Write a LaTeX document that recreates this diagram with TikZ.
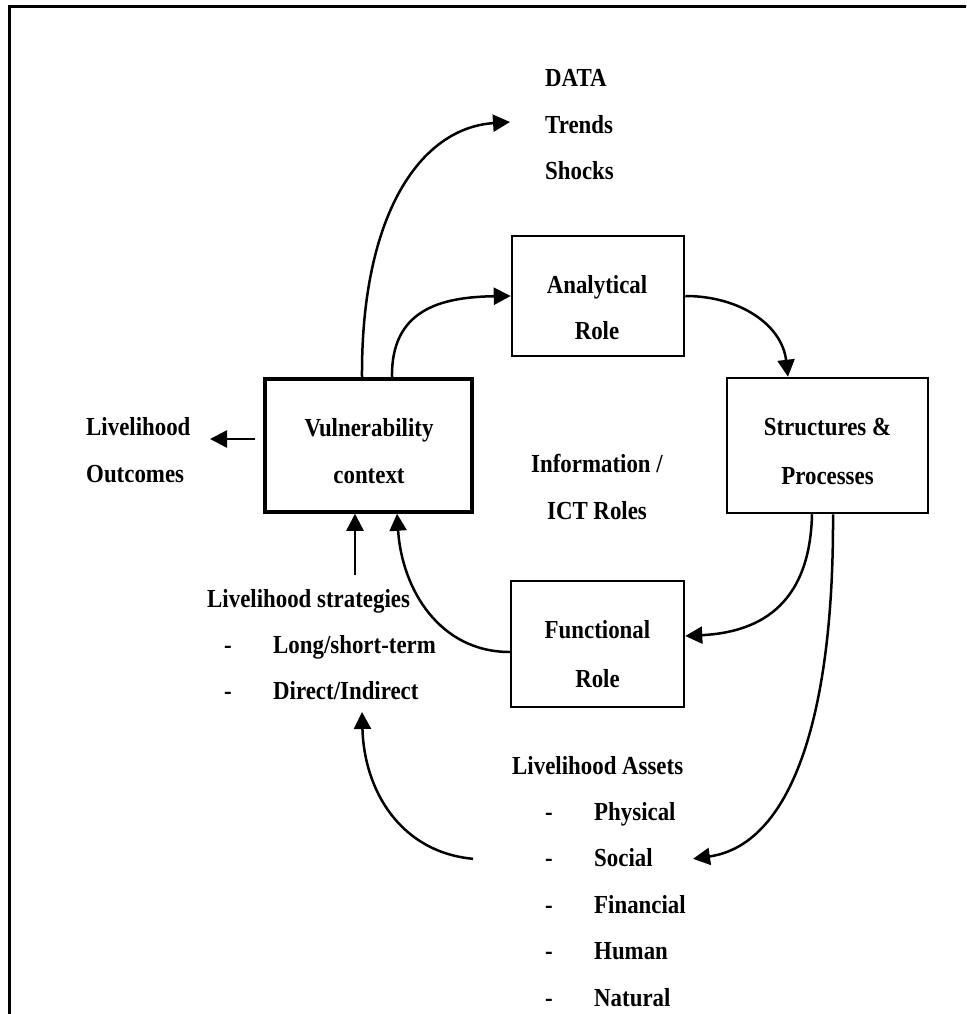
\documentclass[tikz,border=0pt]{standalone}
\usepackage{fontspec}
\setmainfont{Liberation Serif}[FakeStretch=0.88]
\usetikzlibrary{arrows.meta}
\begin{document}
\begin{tikzpicture}[x=1pt,y=-1pt,
  lbl/.style={font=\fontsize{26}{30}\selectfont\bfseries, inner sep=0pt},
  box/.style={draw, line width=2.5pt, inner sep=0pt},
  arr/.style={line width=2.5pt, -{Triangle[length=17pt,width=17pt]}},
  frame/.style={line width=3pt}]
\useasboundingbox (0,0) rectangle (966,1014);
\clip (0,0) rectangle (966,1014);

% outer frame (top and left edges)
\draw[frame] (9,1030) -- (9,7) -- (980,7);

% boxes
\node[box, line width=3.5pt, minimum width=207pt, minimum height=133pt] (vul) at (368.5,445.5) {};
\node[box, minimum width=172pt, minimum height=120pt] (ana) at (598,296) {};
\node[box, minimum width=201pt, minimum height=135pt] (sp) at (827.5,445.5) {};
\node[box, minimum width=173pt, minimum height=126pt] (fun) at (597.5,644) {};

% box texts
\node[lbl, anchor=base] (vul1) at (369,436) {Vulnerability};
\node[lbl, anchor=base] (vul2) at (369,483) {context};
\node[lbl, anchor=base] (ana1) at (597,293) {Analytical};
\node[lbl, anchor=base] (ana2) at (597,339) {Role};
\node[lbl, anchor=base] (sp1) at (827.5,435) {Structures \&};
\node[lbl, anchor=base] (sp2) at (827.5,484) {Processes};
\node[lbl, anchor=base] (fun1) at (597.5,638) {Functional};
\node[lbl, anchor=base] (fun2) at (597.5,687) {Role};

% centre label
\node[lbl, anchor=base] (ict1) at (597,472) {Information /};
\node[lbl, anchor=base] (ict2) at (597,519) {ICT Roles};

% data list
\node[lbl, anchor=base west] (data) at (545,87) {DATA};
\node[lbl, anchor=base west] (trends) at (545,133) {Trends};
\node[lbl, anchor=base west] (shocks) at (545,179) {Shocks};

% livelihood outcomes
\node[lbl, anchor=base west] (out1) at (86,435) {Livelihood};
\node[lbl, anchor=base west] (out2) at (86,482) {Outcomes};
\coordinate (outtip) at (210,439);

% livelihood strategies
\node[lbl, anchor=base west] (str) at (207,607) {Livelihood strategies};
\node[lbl, anchor=base] (strd1) at (228,653) {-};
\node[lbl, anchor=base west] (str1) at (273,653) {Long/short-term};
\node[lbl, anchor=base] (strd2) at (228,699) {-};
\node[lbl, anchor=base west] (str2) at (273,699) {Direct/Indirect};

% livelihood assets
\node[lbl, anchor=base west] (ast) at (512,774) {Livelihood Assets};
\foreach \t [count=\i] in {Physical,Social,Financial,Human,Natural}{
  \node[lbl, anchor=base] (astd\i) at (549,{774+46.4*\i}) {-};
  \node[lbl, anchor=base west] (ast\i) at (594,{774+46.4*\i}) {\t};
}

% connectors (shifts are in page units: positive yshift points up)
\draw[arr] ([xshift=-6.5pt]vul.north) .. controls (361,215) and (420,128) .. ([xshift=-35pt,yshift=11pt]trends.base west);
\draw[arr] ([xshift=23.5pt]vul.north) .. controls (391,310) and (440,297) .. (ana.west);
\draw[arr] (ana.east) .. controls (740,296) and (782,325) .. ([xshift=-39.5pt]sp.north);
\draw[arr] ([xshift=-15.5pt]sp.south) .. controls (810,600) and (765,632) .. ([yshift=8pt]fun.east);
\draw[arr] ([xshift=5.5pt]sp.south) .. controls (834,720) and (790,845) .. ([xshift=99pt,yshift=8pt]ast2.base west);
\draw[arr] ([yshift=-8pt]fun.west) .. controls (440,652) and (402,590) .. ([xshift=28.5pt]vul.south);
\draw[arr] ([xshift=-13.5pt,yshift=32pt]str.base west -| vul.south) -- ([xshift=-13.5pt]vul.south);
\draw[arr] ([xshift=-121pt,yshift=8pt]ast2.base west) .. controls (400,852) and (364,790) .. ([xshift=89pt,yshift=-13pt]str2.base west);
\draw[arr] ([xshift=-8pt,yshift=6.5pt]vul.west) -- (outtip);
\end{tikzpicture}
\end{document}
